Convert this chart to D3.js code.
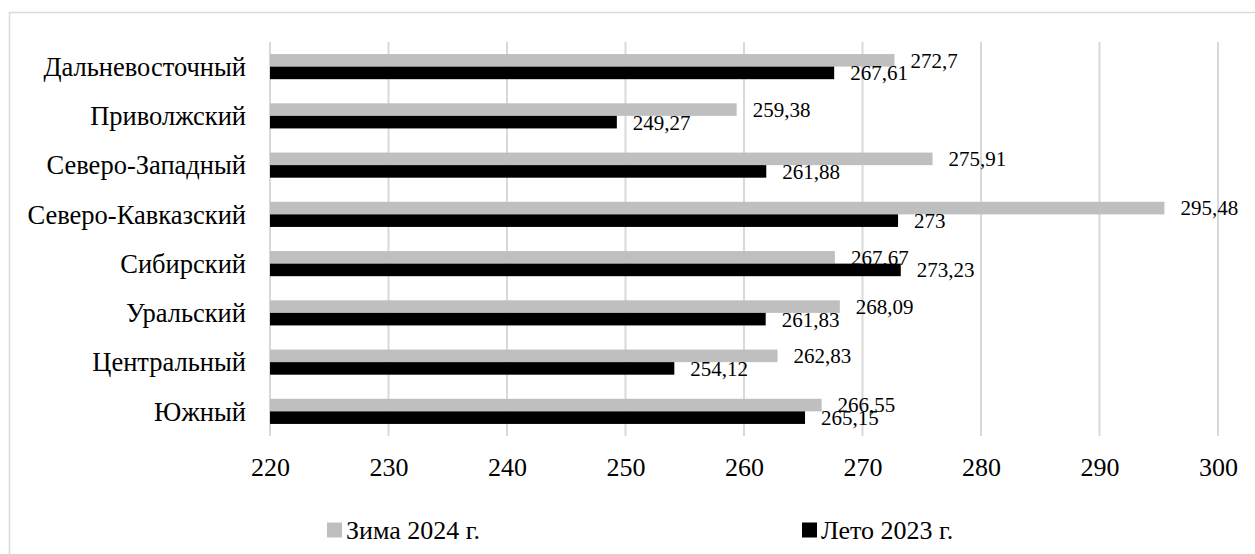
<!DOCTYPE html>
<html>
<head>
<meta charset="utf-8">
<script src="https://cdn.jsdelivr.net/npm/d3@7"></script>
<style>
  body { margin: 0; background: #fff; }
</style>
</head>
<body>
<div id="chart"></div>
<script>
// данные
const regions = ["Дальневосточный", "Приволжский", "Северо-Западный", "Северо-Кавказский",
                 "Сибирский", "Уральский", "Центральный", "Южный"];
const winter2024 = [272.7, 259.38, 275.91, 295.48, 267.67, 268.09, 262.83, 266.55];
const summer2023 = [267.61, 249.27, 261.88, 273, 273.23, 261.83, 254.12, 265.15];
const seriesNames = ["Зима 2024 г.", "Лето 2023 г."];
const seriesColors = ["#bfbfbf", "#000000"];
const xTicks = [220, 230, 240, 250, 260, 270, 280, 290, 300];

const FONT = "'Liberation Serif', 'Times New Roman', Times, serif";
const width = 1255, height = 554;
const plot = {left: 270, right: 1218, top: 42, bottom: 436};

const svg = d3.select("#chart").append("svg")
    .attr("width", width)
    .attr("height", height)
    .style("font-family", FONT);

// рамка
svg.append("rect")
    .attr("x", 9.5).attr("y", 12.5)
    .attr("width", 1260).attr("height", 560)
    .attr("fill", "none")
    .attr("stroke", "#d9d9d9")
    .attr("stroke-width", 1.5);

// шкалы
const x = d3.scaleLinear().domain([220, 300]).range([plot.left, plot.right]);
const y = d3.scaleBand().domain(regions).range([plot.top, plot.bottom])
    .paddingInner(0.49).paddingOuter(0.245);
const ySub = d3.scaleBand().domain([0, 1]).range([0, y.bandwidth()]);

// сетка
svg.append("g").selectAll("line")
    .data(xTicks)
    .enter().append("line")
    .attr("x1", d => x(d)).attr("x2", d => x(d))
    .attr("y1", plot.top).attr("y2", plot.bottom)
    .attr("stroke", "#d9d9d9")
    .attr("stroke-width", 2);

// подписи оси X
const xAxis = svg.append("g")
    .attr("transform", `translate(0,${plot.bottom + 22})`)
    .call(d3.axisBottom(x).tickValues(xTicks).tickSize(0).tickPadding(0).tickFormat(d3.format("d")));
xAxis.attr("font-family", null).attr("font-size", null);
xAxis.select(".domain").remove();
xAxis.selectAll("text")
    .style("font-family", FONT)
    .style("font-size", "26px")
    .attr("fill", "#000");

// подписи категорий
svg.append("g").selectAll("text")
    .data(regions)
    .enter().append("text")
    .attr("x", 246)
    .attr("y", d => y(d) + y.bandwidth() / 2)
    .attr("dy", "0.35em")
    .attr("text-anchor", "end")
    .style("font-family", FONT)
    .style("font-size", "26.5px")
    .text(d => d);

const fmt = v => String(v).replace(".", ",");

// ряды: серый, затем чёрный (чёрные столбцы перекрывают подписи серых)
[winter2024, summer2023].forEach((vals, s) => {
    const g = svg.append("g");
    g.selectAll("rect")
        .data(vals)
        .enter().append("rect")
        .attr("x", x(220))
        .attr("y", (d, i) => y(regions[i]) + ySub(s))
        .attr("width", d => x(d) - x(220))
        .attr("height", ySub.bandwidth())
        .attr("fill", seriesColors[s]);
    g.selectAll("text")
        .data(vals)
        .enter().append("text")
        .attr("x", d => x(d) + 16)
        .attr("y", (d, i) => y(regions[i]) + ySub(s) + ySub.bandwidth() / 2)
        .attr("dy", "0.35em")
        .style("font-family", FONT)
        .style("font-size", "21px")
        .text(d => fmt(d));
});

// легенда
const legendX = [327, 802];
const legend = svg.append("g").selectAll("g")
    .data(seriesNames)
    .enter().append("g")
    .attr("transform", (d, i) => `translate(${legendX[i]},530)`);
legend.append("rect")
    .attr("x", 0).attr("y", -7.5)
    .attr("width", 15).attr("height", 15)
    .attr("fill", (d, i) => seriesColors[i]);
legend.append("text")
    .attr("x", 19)
    .attr("dy", "0.35em")
    .style("font-family", FONT)
    .style("font-size", "26px")
    .text(d => d);
</script>
</body>
</html>
